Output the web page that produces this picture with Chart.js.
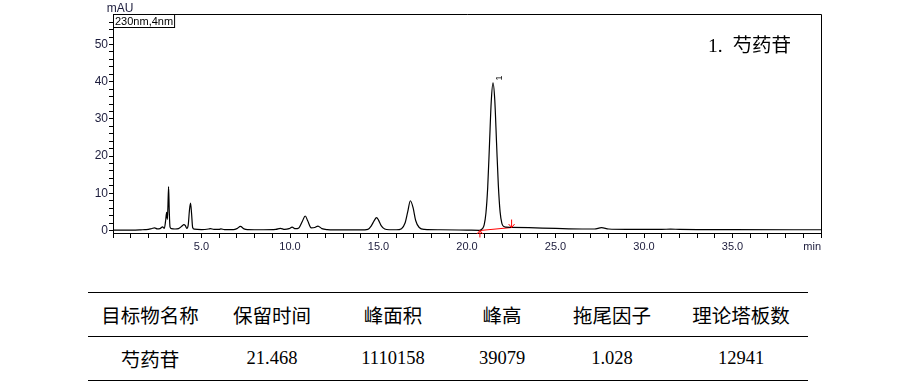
<!DOCTYPE html>
<html><head><meta charset="utf-8">
<script src="https://cdn.jsdelivr.net/npm/chart.js@4"></script>
<style>
html,body{margin:0;padding:0;background:#fff;width:900px;height:383px;overflow:hidden;position:relative}
#c{position:absolute;left:0;top:0}
table{position:absolute;left:88px;top:292px;width:720px;border-collapse:collapse;table-layout:fixed}
th,td{text-align:center;padding:0;color:#000}
th{font-family:"Noto Sans CJK SC";font-weight:400;font-size:19.5px;height:43px;border-top:1.6px solid #000;border-bottom:1.6px solid #000}
td{font-family:"Liberation Serif","Noto Sans CJK SC";font-size:18.5px;height:43px;border-bottom:1.6px solid #000}
td.cjk{font-family:"Noto Sans CJK SC";font-size:19.5px}
</style></head>
<body>
<canvas id="c" width="900" height="265"></canvas>
<table id="t"></table>
<script>
// ---- data ----
const retentionTimes = [0.0,0.5,1.0,1.5,1.8,2.0,2.2,2.35,2.5,2.65,2.8,2.9,2.97,3.03,3.07,3.1,3.14,3.18,3.22,3.3,3.5,3.7,3.9,4.0,4.08,4.17,4.25,4.32,4.38,4.44,4.5,4.6,5.0,5.4,5.5,5.7,6.0,6.1,6.3,6.8,7.0,7.2,7.4,7.6,8.5,9.2,9.45,9.7,9.95,10.12,10.3,10.5,10.7,10.86,11.0,11.2,11.4,11.58,11.8,12.1,13.0,14.0,14.4,14.6,14.75,14.89,15.0,15.15,15.35,15.6,16.0,16.3,16.5,16.65,16.8,16.95,17.1,17.3,17.6,18.5,20.0,20.7,20.87,20.97,21.07,21.17,21.27,21.37,21.47,21.57,21.67,21.77,21.87,21.97,22.07,22.2,22.5,23.5,25.0,26.5,27.2,27.6,28.0,29.0,31.0,31.5,32.0,35.0,40.0];
const signalMAU = [0.1,0.1,0.1,0.15,0.25,0.3,0.55,0.7,0.45,0.5,1.0,0.6,2.5,4.9,3.0,6.0,11.8,5.0,1.0,0.5,0.4,0.5,1.2,1.6,1.4,0.6,1.5,5.5,7.4,4.5,0.8,0.35,0.25,0.4,0.5,0.3,0.3,0.45,0.25,0.25,0.5,1.1,0.45,0.25,0.2,0.3,0.6,0.3,0.5,0.9,0.5,0.7,2.5,3.9,2.6,0.7,0.8,1.2,0.5,0.25,0.15,0.15,0.3,1.3,2.6,3.45,2.8,1.3,0.4,0.2,0.2,0.5,2.0,5.0,8.0,6.2,2.7,0.8,0.3,0.2,0.1,0.05,0.5,1.5,4.7,11.6,23.1,34.7,39.7,35.0,23.5,12.2,5.0,1.9,1.1,0.9,0.85,0.75,0.55,0.4,0.4,0.75,0.4,0.3,0.3,0.38,0.3,0.22,0.2];
const baselineTimes = [20.73, 22.52];
const baselineValues = [0.0, 0.8];
const peakLabelTime = 21.47, peakLabelValue = 41.0, peakLabelText = '1';
const xTickValues = [0,1,2,3,4,5,6,7,8,9,10,11,12,13,14,15,16,17,18,19,20,21,22,23,24,25,26,27,28,29,30,31,32,33,34,35,36,37,38,39,40];
const xLabelValues = [5,10,15,20,25,30,35];
const xLabelTexts = ['5.0','10.0','15.0','20.0','25.0','30.0','35.0'];
const xUnit = 'min';
const yTickValues = [0,2,4,6,8,10,12,14,16,18,20,22,24,26,28,30,32,34,36,38,40,42,44,46,48,50,52,54,56];
const yLabelValues = [0,10,20,30,40,50];
const yLabelTexts = ['0','10','20','30','40','50'];
const yUnit = 'mAU';
const channelText = '230nm,4nm';
const titleText = '1.  芍药苷';
const tableHeaders = ['目标物名称','保留时间','峰面积','峰高','拖尾因子','理论塔板数'];
const tableRow = ['芍药苷','21.468','1110158','39079','1.028','12941'];

// ---- table ----
const colW = [124,120,122,96,124,134];
const t = document.getElementById('t');
let html = '<colgroup>' + colW.map(w=>'<col style="width:'+w+'px">').join('') + '</colgroup>';
html += '<tr>' + tableHeaders.map(h=>'<th>'+h+'</th>').join('') + '</tr>';
html += '<tr>' + tableRow.map((v,i)=>'<td'+(i===0?' class="cjk"':'')+'>'+v+'</td>').join('') + '</tr>';
t.innerHTML = html;

// ---- chart ----
const tickColor = '#1c1c3c';
const points = retentionTimes.map((x,i)=>({x, y: signalMAU[i]}));
const basePts = baselineTimes.map((x,i)=>({x, y: baselineValues[i]}));

const decor = {
  id: 'decor',
  afterDraw(chart){
    const {ctx, chartArea:a, scales:{x,y}} = chart;
    ctx.save();
    ctx.strokeStyle = '#000'; ctx.lineWidth = 1;
    ctx.beginPath();
    ctx.moveTo(a.left, a.top + 0.5);
    ctx.lineTo(Math.round(a.right) + 0.5, a.top + 0.5);
    ctx.lineTo(Math.round(a.right) + 0.5, a.bottom);
    ctx.stroke();
    ctx.fillStyle = tickColor;
    ctx.font = '12px "Liberation Sans"';
    ctx.textAlign = 'center'; ctx.textBaseline = 'middle';
    ctx.fillText(yUnit, a.left + 7, 8.5);
    ctx.fillStyle = '#000';
    ctx.font = '11px "Liberation Sans"';
    ctx.textAlign = 'left';
    const w = ctx.measureText(channelText).width;
    ctx.strokeRect(Math.round(a.left) + 0.5, a.top + 0.5, w + 3, 13);
    ctx.fillText(channelText, a.left + 2, a.top + 7.5);
    ctx.font = '19.5px "Liberation Serif","Noto Sans CJK SC"';
    ctx.fillText(titleText, 708, 47);
    ctx.fillStyle = tickColor;
    ctx.font = '11px "Liberation Sans"';
    ctx.textAlign = 'right';
    ctx.fillText(xUnit, a.right, 247);
    ctx.strokeStyle = '#ff0000'; ctx.lineWidth = 1;
    const lx = x.getPixelForValue(baselineTimes[0]), ly = y.getPixelForValue(baselineValues[0]);
    const rx = x.getPixelForValue(baselineTimes[1]), ry = y.getPixelForValue(baselineValues[1]);
    ctx.beginPath();
    ctx.moveTo(lx, ly); ctx.lineTo(lx, ly + 7);
    ctx.moveTo(lx - 3, ly + 3.5); ctx.lineTo(lx, ly); ctx.lineTo(lx + 3, ly + 3.5);
    ctx.moveTo(rx, ry); ctx.lineTo(rx, ry - 8);
    ctx.moveTo(rx - 3, ry - 3.5); ctx.lineTo(rx, ry); ctx.lineTo(rx + 3, ry - 3.5);
    ctx.stroke();
    ctx.fillStyle = '#000';
    ctx.font = '9px "Liberation Sans"';
    ctx.translate(x.getPixelForValue(peakLabelTime) + 6, y.getPixelForValue(peakLabelValue));
    ctx.rotate(-Math.PI/2);
    ctx.textAlign = 'center'; ctx.textBaseline = 'middle';
    ctx.fillText(peakLabelText, 0, 0);
    ctx.restore();
  }
};

new Chart(document.getElementById('c'), {
  type: 'line',
  data: {
    datasets: [
      {data: points, borderColor: '#000', borderWidth: 1.2, pointRadius: 0, cubicInterpolationMode: 'monotone', fill: false},
      {data: basePts, borderColor: '#ff0000', borderWidth: 1, pointRadius: 0, fill: false}
    ]
  },
  options: {
    responsive: false,
    animation: false,
    events: [],
    layout: {padding: {left: 0, right: 79, top: 14, bottom: 0}},
    plugins: {legend: {display: false}, tooltip: {enabled: false}},
    scales: {
      x: {
        type: 'linear', min: 0, max: 40,
        afterBuildTicks: s => { s.ticks = xTickValues.map(v => ({value: v})); },
        afterFit: s => { s.height = 32; },
        grid: {drawOnChartArea: false, drawTicks: true, tickLength: 5, color: '#000'},
        border: {display: true, color: '#000', width: 1},
        ticks: {
          autoSkip: false, maxRotation: 0, minRotation: 0, padding: 2,
          color: tickColor, font: {family: 'Liberation Sans', size: 11},
          callback: v => { const i = xLabelValues.indexOf(v); return i >= 0 ? xLabelTexts[i] : ''; }
        }
      },
      y: {
        type: 'linear', min: -0.67, max: 58.2,
        afterBuildTicks: s => { s.ticks = yTickValues.map(v => ({value: v})); },
        afterFit: s => { s.width = 113; },
        grid: {drawOnChartArea: false, drawTicks: true, tickLength: 4, color: '#000'},
        border: {display: true, color: '#000', width: 1},
        ticks: {
          autoSkip: false, padding: 1,
          color: tickColor, font: {family: 'Liberation Sans', size: 12},
          callback: v => { const i = yLabelValues.indexOf(v); return i >= 0 ? yLabelTexts[i] : ''; }
        }
      }
    }
  },
  plugins: [decor]
});
</script>
</body></html>
